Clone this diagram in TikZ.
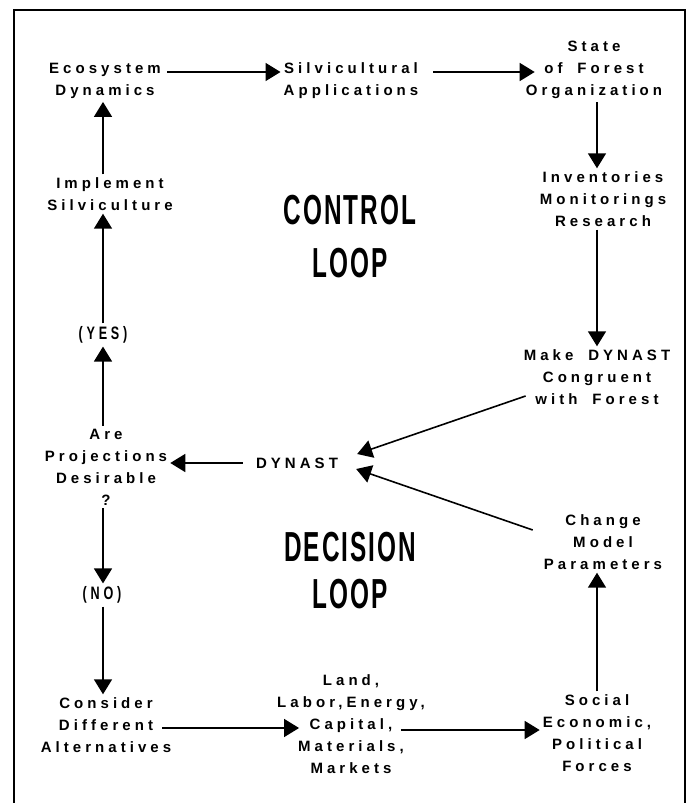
\documentclass[tikz,border=0pt]{standalone}
\usepackage{fontspec}
\setmainfont{Liberation Sans}
\newfontfamily\lblfont[LetterSpace=27,WordSpace=1.8]{Liberation Sans}
\newfontfamily\ttlfont[LetterSpace=8]{Liberation Sans}
\newfontfamily\ynfont[LetterSpace=30]{Liberation Sans}
\usetikzlibrary{arrows.meta}
\newcommand\narrowtext[2]{\scalebox{#1}[1]{#2}}
\tikzset{
  lbl/.style={font=\lblfont\bfseries\fontsize{15}{22}\selectfont, align=center, inner sep=3pt},
  ttl/.style={font=\ttlfont\bfseries\fontsize{42}{42}\selectfont, inner sep=0pt},
  yn/.style={font=\ynfont\bfseries\fontsize{18}{18}\selectfont, inner sep=3pt},
  arr/.style={line width=1.6pt, -{Triangle[length=15pt,width=18pt]}},
}
\begin{document}
\begin{tikzpicture}[x=1pt,y=-1pt]
\useasboundingbox (0,0) rectangle (695,803);
% outer frame (bottom edge runs off the page)
\draw[line width=2pt] (14,10) rectangle (685,812);

% column guides for the vertical connectors
\coordinate (colL) at (103,0);
\coordinate (colR) at (597,0);

% control loop
\node[lbl] (eco)   at (105,81)  {Ecosystem\\Dynamics};
\node[lbl] (silv)  at (351,81)  {Silvicultural\\Applications};
\node[lbl] (state) at (594,70)  {State\\of Forest\\Organization};
\node[lbl] (inv)   at (603,199) {Inventories\\Monitorings\\Research};
\node[lbl] (make)  at (597,377) {Make DYNAST\\Congruent\\with Forest};
\node[lbl] (impl)  at (110,194) {Implement\\Silviculture};
\node[yn]  (yes)   at (103,335) {\narrowtext{0.7}{(YES)}};

% model and decision
\node[lbl] (dyn)   at (297,463) {DYNAST};
\node[lbl] (are)   at (106,467) {Are\\Projections\\Desirable\\?};
\node[yn]  (no)    at (102,595) {\narrowtext{0.7}{(NO)}};
\node[lbl] (change) at (603,542) {Change\\Model\\Parameters};
\node[lbl] (cons)  at (106,725) {Consider\\Different\\Alternatives};
\node[lbl] (land)  at (351,724) {Land,\\Labor,Energy,\\Capital,\\Materials,\\Markets};
\node[lbl] (soc)   at (597,733) {Social\\Economic,\\Political\\Forces};

% loop titles
\node[ttl] (ctl)  at (350,210) {\narrowtext{0.58}{CONTROL}};
\node[ttl] (ctl2) at (350,263) {\narrowtext{0.58}{LOOP}};
\node[ttl] (dec)  at (350,547) {\narrowtext{0.58}{DECISION}};
\node[ttl] (dec2) at (350,594) {\narrowtext{0.58}{LOOP}};

% heads meeting at DYNAST
\coordinate (dynU) at ([xshift=16pt,yshift=9pt]dyn.east);
\coordinate (dynL) at ([xshift=15pt,yshift=-6pt]dyn.east);

% connectors
\draw[arr, shorten <=3pt] ([yshift=9pt]eco.east) -- ([yshift=9pt]silv.west);
\draw[arr, shorten <=12pt] ([yshift=9pt]silv.east) -- ([xshift=12pt,yshift=-2pt]state.west);
\draw[arr] (state.south -| colR) -- (inv.north -| colR);
\draw[arr] (inv.south -| colR) -- (make.north -| colR);
\draw[arr] ([xshift=5pt,yshift=-19pt]make.west) -- (dynU);
\draw[arr] ([xshift=-8pt,yshift=12pt]change.west) -- (dynL);
\draw[arr, shorten <=10pt] (dyn.west) -- ([yshift=4pt]are.east);
\draw[arr] (are.north -| colL) -- (yes.south -| colL);
\draw[arr] (yes.north -| colL) -- (impl.south -| colL);
\draw[arr] (impl.north -| colL) -- (eco.south -| colL);
\draw[arr] (are.south -| colL) -- (no.north -| colL);
\draw[arr] (no.south -| colL) -- (cons.north -| colL);
\draw[arr] ([xshift=-12pt,yshift=-3pt]cons.east) -- ([xshift=25pt,yshift=-4pt]land.west);
\draw[arr] ([xshift=-27pt,yshift=-6pt]land.east) -- ([yshift=3pt]soc.west);
\draw[arr] (soc.north -| colR) -- (change.south -| colR);
\end{tikzpicture}
\end{document}
